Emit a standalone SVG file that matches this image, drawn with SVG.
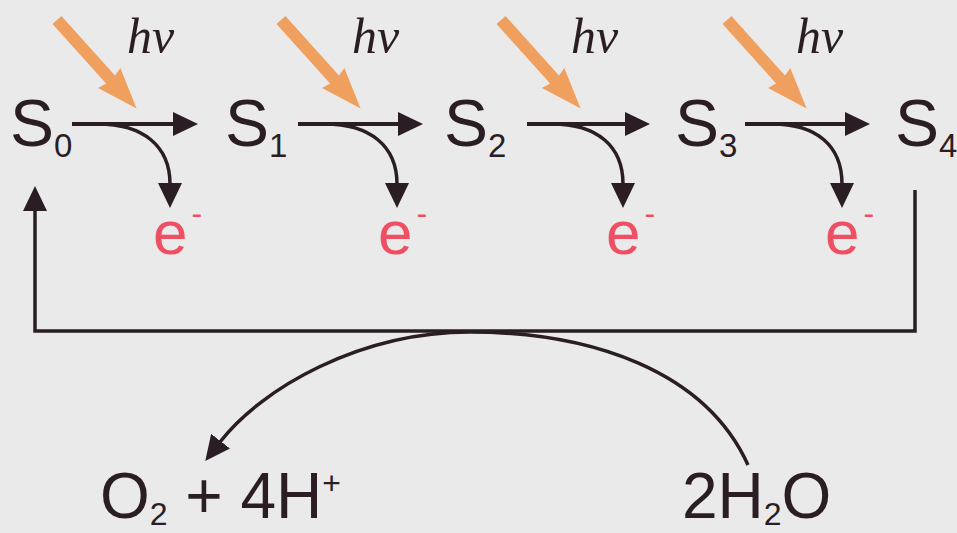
<svg xmlns="http://www.w3.org/2000/svg" width="957" height="533" viewBox="0 0 957 533">
<style>
.st{font-family:"Liberation Sans",Arial,sans-serif;font-size:66px;fill:#2a1e24}
.sub{font-size:33px}
.hv{font-family:"Liberation Serif","Times New Roman",serif;font-style:italic;font-size:50px;fill:#2a1e24}
.el{font-family:"Liberation Sans",Arial,sans-serif;font-size:62px;fill:#ee4f63}
.min{font-size:32px}
.chem{font-family:"Liberation Sans",Arial,sans-serif;font-size:64px;fill:#2a1e24}
.csub{font-size:32px}
.ln{fill:none;stroke:#2a1e24;stroke-width:4}
.cv{fill:none;stroke:#2a1e24;stroke-width:3.5}
.light{fill:#f0a05e}
</style>
<defs>
<marker id="ah" markerUnits="userSpaceOnUse" markerWidth="26" markerHeight="24" viewBox="0 0 26 24" refX="1" refY="12" orient="auto">
<path d="M0,0 L25,12 L0,24 z" fill="#2a1e24"/>
</marker>
<path id="photon" d="M0,-6 L80,-6 L78,-15 L119,0 L78,15 L80,6 L0,6 Z"/>
</defs>
<rect width="957" height="533" fill="#eaeaea"/>

<g id="S0"><text class="st" x="10" y="146">S<tspan class="sub" dy="11">0</tspan></text></g>
<g id="S1"><text class="st" x="225" y="146">S<tspan class="sub" dy="11">1</tspan></text></g>
<g id="S2"><text class="st" x="444" y="146">S<tspan class="sub" dy="11">2</tspan></text></g>
<g id="S3"><text class="st" x="675" y="146">S<tspan class="sub" dy="11">3</tspan></text></g>
<g id="S4"><text class="st" x="895" y="146">S<tspan class="sub" dy="11">4</tspan></text></g>

<g id="e0"><text class="el" x="153" y="254">e<tspan class="min" dx="4" dy="-30">-</tspan></text></g>
<g id="e1"><text class="el" x="378" y="254">e<tspan class="min" dx="4" dy="-30">-</tspan></text></g>
<g id="e2"><text class="el" x="606" y="254">e<tspan class="min" dx="4" dy="-30">-</tspan></text></g>
<g id="e3"><text class="el" x="825" y="254">e<tspan class="min" dx="4" dy="-30">-</tspan></text></g>

<g id="light">
<use href="#photon" class="light" transform="translate(57,20) rotate(48)"/>
<use href="#photon" class="light" transform="translate(281,20) rotate(48)"/>
<use href="#photon" class="light" transform="translate(501,20) rotate(48)"/>
<use href="#photon" class="light" transform="translate(727,20) rotate(48)"/>
<text class="hv" x="127" y="53">hν</text>
<text class="hv" x="352" y="53">hν</text>
<text class="hv" x="571" y="53">hν</text>
<text class="hv" x="796" y="53">hν</text>
</g>

<g id="products"><text class="chem" x="100" y="518">O<tspan class="csub" dy="7">2</tspan><tspan dy="-7"> + 4H</tspan><tspan class="csub" dy="-24">+</tspan></text></g>
<g id="water"><text class="chem" x="682" y="518">2H<tspan class="csub" dy="7">2</tspan><tspan dy="-7">O</tspan></text></g>

<g id="connectors">
<path class="ln" d="M72,124 H174" marker-end="url(#ah)"/>
<path class="ln" d="M298,124 H399" marker-end="url(#ah)"/>
<path class="ln" d="M527,124 H626" marker-end="url(#ah)"/>
<path class="ln" d="M745,124 H846" marker-end="url(#ah)"/>
<path class="cv" d="M98,124 C143,124 170,146 170,184" marker-end="url(#ah)"/>
<path class="cv" d="M325,124 C370,124 397,146 397,184" marker-end="url(#ah)"/>
<path class="cv" d="M552,124 C597,124 623,146 623,184" marker-end="url(#ah)"/>
<path class="cv" d="M772,124 C817,124 842,146 842,184" marker-end="url(#ah)"/>
<path class="cv" d="M915,190 V331 H35 V210" marker-end="url(#ah)"/>
<path class="cv" d="M748,465 C705,370 590,332 470,332 C360,332 262,388 220,442" marker-end="url(#ah)"/>
</g>
</svg>
